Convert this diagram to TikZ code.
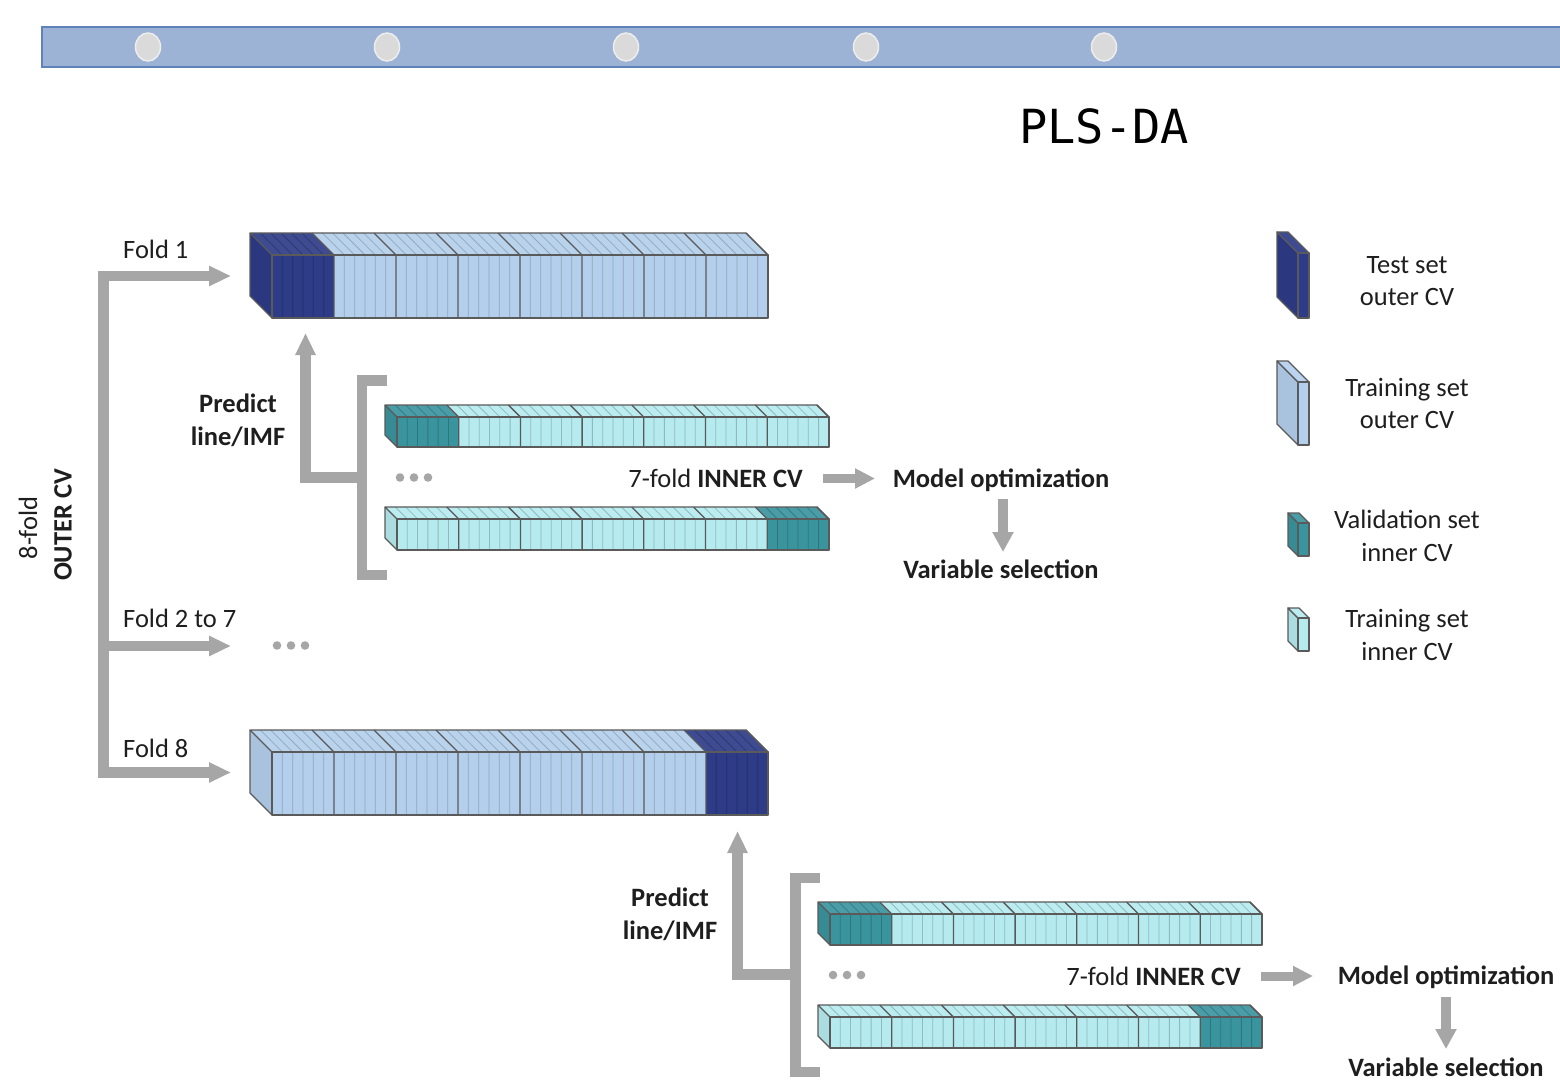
\documentclass[tikz,border=0pt]{standalone}
\usepackage{fontspec}
\setmainfont{Carlito}
\newfontfamily\monofont{DejaVu Sans Mono}
\usetikzlibrary{arrows.meta}

\definecolor{testc}{HTML}{2E3B86}
\definecolor{trainc}{HTML}{B4CFEC}
\definecolor{validc}{HTML}{3A949E}
\definecolor{trainic}{HTML}{B5EAEE}
\definecolor{arrowgray}{HTML}{A6A6A6}
\definecolor{bandfill}{HTML}{9DB3D6}
\definecolor{bandedge}{HTML}{6082BA}
\definecolor{dotfill}{HTML}{DADADA}
\definecolor{dotedge}{HTML}{EDEDED}
\definecolor{txt}{HTML}{1E1E1E}
\definecolor{edgegray}{HTML}{5A5A5A}

\tikzset{
  lbl/.style={font=\fontsize{26.5}{33}\selectfont, text=txt, inner sep=0pt},
  lblb/.style={font=\fontsize{26.5}{33}\selectfont\bfseries, text=txt, inner sep=0pt},
  gline/.style={draw=arrowgray, line width=10.5pt, line join=miter, line cap=butt},
  garrow/.style={gline, -{Triangle[length=22pt,width=19pt]}},
  gsmall/.style={draw=arrowgray, line width=9pt, -{Triangle[length=20pt,width=19pt]}},
  baredge/.style={draw=edgegray, line width=1.3pt, line join=round},
  segedge/.style={draw=black!65, line width=1.3pt},
  stripe/.style={line width=0.8pt, opacity=0.45},
  gdot/.style={fill=arrowgray, draw=none},
}

% Oblique prism split into segments with fine sub-stripes.
% #1 x front-left, #2 y front-top, #3 height, #4 depth, #5 segment width,
% #6 number of segments, #7 highlighted segment, #8 base colour, #9 highlight colour
\newcommand{\cvbar}[9]{%
  % faces
  \foreach \i in {1,...,#6}{%
    \ifnum\i=#7\relax\colorlet{segc}{#9}\else\colorlet{segc}{#8}\fi
    \pgfmathsetmacro{\xa}{#1+(\i-1)*#5}%
    \pgfmathsetmacro{\xb}{#1+\i*#5}%
    \fill[segc!92!white] (\xa,#2) -- (\xa-#4,#2-#4) -- (\xb-#4,#2-#4) -- (\xb,#2) -- cycle;
    \fill[segc] (\xa,#2) rectangle (\xb,#2+#3);
    \ifnum\i=1\relax
      \fill[segc!94!black] (\xa,#2) -- (\xa-#4,#2-#4) -- (\xa-#4,#2+#3-#4) -- (\xa,#2+#3) -- cycle;
    \fi
  }%
  % sub-stripes and segment boundaries
  \foreach \i in {1,...,#6}{%
    \ifnum\i=#7\relax\colorlet{segc}{#9}\else\colorlet{segc}{#8}\fi
    \pgfmathsetmacro{\xa}{#1+(\i-1)*#5}%
    \pgfmathsetmacro{\xb}{#1+\i*#5}%
    \foreach \j in {1,...,5}{%
      \pgfmathsetmacro{\xs}{\xa+\j*#5/6}%
      \draw[stripe, draw=segc!55!black] (\xs,#2+#3) -- (\xs,#2) -- (\xs-#4,#2-#4);
    }%
    \draw[segedge] (\xb,#2+#3) -- (\xb,#2) -- (\xb-#4,#2-#4);
  }%
  \draw[baredge] (#1,#2) rectangle (#1+#6*#5,#2+#3);
  \draw[baredge] (#1,#2) -- (#1-#4,#2-#4) -- (#1+#6*#5-#4,#2-#4) -- (#1+#6*#5,#2);
  \draw[baredge] (#1-#4,#2-#4) -- (#1-#4,#2+#3-#4) -- (#1,#2+#3);
}

% Thin slab for the key: #1 x, #2 y, #3 height, #4 depth, #5 width, #6 colour
\newcommand{\keyslab}[6]{%
  \filldraw[fill=#6!94!black, baredge] (#1,#2) -- (#1-#4,#2-#4) -- (#1-#4,#2+#3-#4) -- (#1,#2+#3) -- cycle;
  \filldraw[fill=#6!92!white, baredge] (#1,#2) -- (#1-#4,#2-#4) -- (#1+#5-#4,#2-#4) -- (#1+#5,#2) -- cycle;
  \filldraw[fill=#6, baredge] (#1,#2) rectangle (#1+#5,#2+#3);
}

\begin{document}
\begin{tikzpicture}[x=1pt,y=-1pt]
\clip (0,0) rectangle (1560,1081);
\fill[white] (0,0) rectangle (1560,1081);

% timeline band
\filldraw[fill=bandfill, draw=bandedge, line width=2pt] (42,27) rectangle (1575,67);
\foreach \cx in {148,387,626,866,1104}{
  \filldraw[fill=dotfill, draw=dotedge, line width=1.5pt] (\cx,47) ellipse [x radius=12.5, y radius=14];
}

\node[font=\monofont\fontsize{47}{50}\selectfont, text=black, inner sep=0pt, anchor=base] (title) at (1104,143) {PLS-DA};

% outer folds
\cvbar{272}{255}{63}{22}{62}{8}{1}{trainc}{testc}
\cvbar{272}{752}{63}{22}{62}{8}{8}{trainc}{testc}

% inner folds, fold 1
\cvbar{397}{417}{30}{12}{61.7}{7}{1}{trainic}{validc}
\cvbar{397}{519}{31}{12}{61.7}{7}{7}{trainic}{validc}

% inner folds, fold 8
\cvbar{830}{914}{31}{12}{61.7}{7}{1}{trainic}{validc}
\cvbar{830}{1017}{31}{12}{61.7}{7}{7}{trainic}{validc}

% outer CV tree
\coordinate (f1tip) at (231,276);
\coordinate (f27tip) at (231,646);
\coordinate (f8tip) at (231,772.5);
\coordinate (trunk1) at (103.5,276);
\coordinate (trunk27) at (103.5,646);
\coordinate (trunk8) at (103.5,772.5);
\draw[gline, {Triangle[length=22pt,width=19pt]}-{Triangle[length=22pt,width=19pt]}]
  (f1tip) -- (trunk1) -- (trunk8) -- (f8tip);
\draw[garrow] (trunk27) -- (f27tip);

\node[lbl, anchor=base west] (fold1) at (123,258) {Fold 1};
\node[lbl, anchor=base west] (fold27) at (123,627) {Fold 2 to 7};
\node[lbl, anchor=base west] (fold8) at (123,757) {Fold 8};
\foreach \dx in {277,291,305}{ \fill[gdot] (\dx,645.5) circle (4.3); }

\node[lbl, rotate=90] (eightfold) at (28,528) {8-fold};
\node[lblb, rotate=90] (outercv) at (63,525) {OUTER CV};

% inner loop of fold 1
\coordinate (brA1) at (387,380.5);
\coordinate (brA2) at (362,380.5);
\coordinate (brA3) at (362,575);
\coordinate (brA4) at (387,575);
\coordinate (brAmid) at (362,477.5);
\coordinate (upAel) at (305.5,477.5);
\coordinate (upAtip) at (305.5,333);
\draw[gline] (brA1) -- (brA2) -- (brA3) -- (brA4);
\draw[garrow] (brAmid) -- (upAel) -- (upAtip);
\node[lblb, anchor=base] (predA1) at (238,412) {Predict};
\node[lblb, anchor=base] (predA2) at (238,445) {line/IMF};
\foreach \dx in {400,414,428}{ \fill[gdot] (\dx,477.5) circle (4.3); }
\node[lbl, anchor=base east] (innerA) at (803,487) {7-fold \textbf{INNER CV}};
\node[lblb, anchor=base] (optA) at (1001,487) {Model optimization};
\node[lblb, anchor=base] (selA) at (1001,578) {Variable selection};
\coordinate (rA0) at (823,478.5);
\coordinate (rA1) at (875,478.5);
\draw[gsmall] (rA0) -- (rA1);
\coordinate (dA0) at (1003,499);
\coordinate (dA1) at (1003,552);
\draw[gsmall, line width=10pt, -{Triangle[length=20pt,width=20pt]}] (dA0) -- (dA1);

% inner loop of fold 8
\coordinate (brB1) at (820,878);
\coordinate (brB2) at (795.5,878);
\coordinate (brB3) at (795.5,1072);
\coordinate (brB4) at (820,1072);
\coordinate (brBmid) at (795.5,974.5);
\coordinate (upBel) at (737.5,974.5);
\coordinate (upBtip) at (737.5,831);
\draw[gline] (brB1) -- (brB2) -- (brB3) -- (brB4);
\draw[garrow] (brBmid) -- (upBel) -- (upBtip);
\node[lblb, anchor=base] (predB1) at (670,906) {Predict};
\node[lblb, anchor=base] (predB2) at (670,939) {line/IMF};
\foreach \dx in {833,847,861}{ \fill[gdot] (\dx,975) circle (4.3); }
\node[lbl, anchor=base east] (innerB) at (1241,985) {7-fold \textbf{INNER CV}};
\node[lblb, anchor=base] (optB) at (1446,984) {Model optimization};
\node[lblb, anchor=base] (selB) at (1446,1076) {Variable selection};
\coordinate (rB0) at (1261,976);
\coordinate (rB1) at (1313,976);
\draw[gsmall] (rB0) -- (rB1);
\coordinate (dB0) at (1446,997);
\coordinate (dB1) at (1446,1049);
\draw[gsmall, line width=10pt, -{Triangle[length=20pt,width=20pt]}] (dB0) -- (dB1);

% key
\keyslab{1298}{253}{65}{21}{11}{testc}
\keyslab{1298}{382}{63}{21}{11}{trainc}
\keyslab{1298}{523}{33}{10}{11}{validc}
\keyslab{1298}{618}{33}{10}{11}{trainic}
\node[lbl, anchor=base] (k1a) at (1407,273) {Test set};
\node[lbl, anchor=base] (k1b) at (1407,305.5) {outer CV};
\node[lbl, anchor=base] (k2a) at (1407,396.5) {Training set};
\node[lbl, anchor=base] (k2b) at (1407,428.5) {outer CV};
\node[lbl, anchor=base] (k3a) at (1407,528.5) {Validation set};
\node[lbl, anchor=base] (k3b) at (1407,561) {inner CV};
\node[lbl, anchor=base] (k4a) at (1407,627.5) {Training set};
\node[lbl, anchor=base] (k4b) at (1407,660) {inner CV};
\end{tikzpicture}
\end{document}
